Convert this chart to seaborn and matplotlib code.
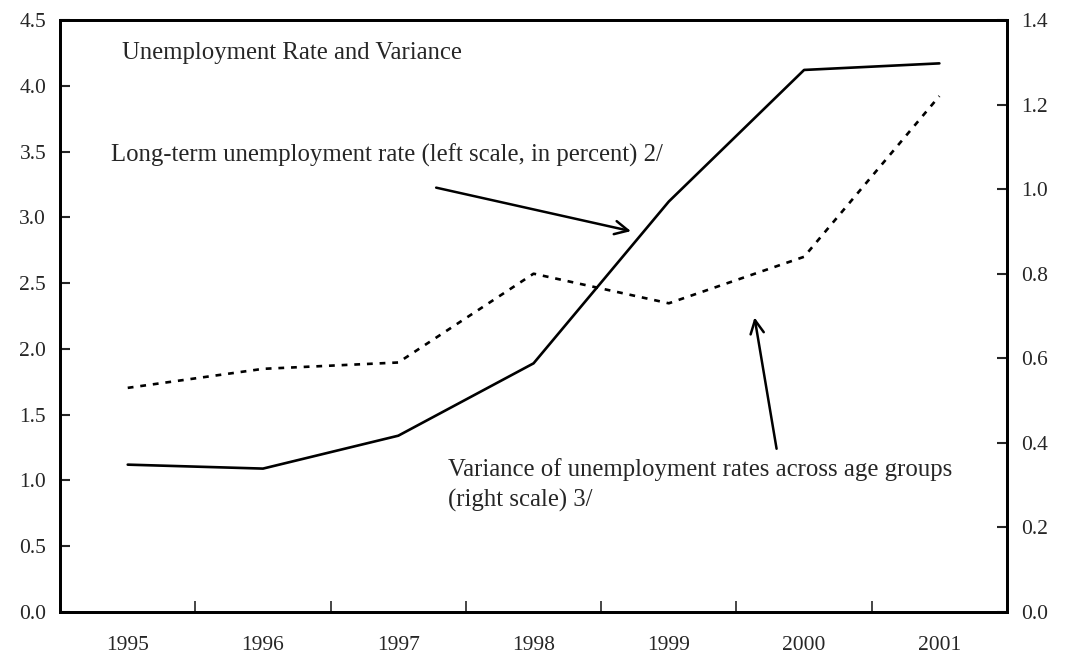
import numpy as np
import pandas as pd
import matplotlib
matplotlib.use("Agg")
import matplotlib.pyplot as plt
import seaborn as sns

years = ["1995", "1996", "1997", "1998", "1999", "2000", "2001"]
longterm_rate = [1.12, 1.09, 1.34, 1.89, 3.12, 4.12, 4.17]
age_variance = [0.53, 0.575, 0.59, 0.80, 0.73, 0.84, 1.22]

df = pd.DataFrame({"pos": np.arange(len(years)),
                   "rate": longterm_rate,
                   "variance": age_variance})

sns.set_style("ticks")
plt.rcParams["font.family"] = ["Liberation Serif", "DejaVu Serif"]

fig = plt.figure(figsize=(10.73, 6.65), dpi=100)
ax = fig.add_axes([0.0560, 0.0797, 0.8825, 0.8903])
ax2 = ax.twinx()

sns.lineplot(data=df, x="pos", y="rate", ax=ax, color="black", lw=1.9)
sns.lineplot(data=df, x="pos", y="variance", ax=ax2, color="black", lw=1.9,
             linestyle=(0, (2.2, 2.6)))

ax.set_xlim(-0.5, len(years) - 0.5)
ax.set_ylim(0, 4.5)
ax2.set_ylim(0, 1.4)
ax.set_yticks(np.arange(0, 4.51, 0.5))
ax2.set_yticks(np.arange(0, 1.41, 0.2))
ax.yaxis.set_major_formatter(matplotlib.ticker.FormatStrFormatter("%.1f"))
ax2.yaxis.set_major_formatter(matplotlib.ticker.FormatStrFormatter("%.1f"))
ax.set_xticks(df["pos"])
ax.set_xticklabels(years)
ax.set_xticks(np.arange(0.5, len(years) - 1, 1), minor=True)
ax.tick_params(axis="x", which="major", length=0, pad=17, labelsize=15.5)
ax.tick_params(axis="x", which="minor", direction="in", length=8, width=1.2)
ax.tick_params(axis="y", direction="in", length=7, width=1.5, labelsize=15.5, pad=10)
ax2.tick_params(axis="y", direction="in", length=7, width=1.5, labelsize=15.5, pad=10)
for a in (ax, ax2):
    a.set_xlabel("")
    a.set_ylabel("")
    for s in a.spines.values():
        s.set_linewidth(2)
        s.set_color("black")

fs = 17.8
ax.text(-0.045, 4.25, "Unemployment Rate and Variance", fontsize=fs, va="center")
ax.text(-0.12, 3.47, "Long-term unemployment rate (left scale, in percent) 2/",
        fontsize=fs, va="center")
ax.text(2.37, 1.08, "Variance of unemployment rates across age groups",
        fontsize=fs, va="center")
ax.text(2.37, 0.85, "(right scale) 3/", fontsize=fs, va="center")

ax.annotate("", xy=(3.74, 2.89), xytext=(2.26, 3.23),
            arrowprops=dict(arrowstyle="->", color="black", lw=1.8,
                            mutation_scale=24))
ax.annotate("", xy=(4.63, 2.26), xytext=(4.80, 1.22),
            arrowprops=dict(arrowstyle="->", color="black", lw=1.8,
                            mutation_scale=24))

fig.savefig("out.png", dpi=100)
